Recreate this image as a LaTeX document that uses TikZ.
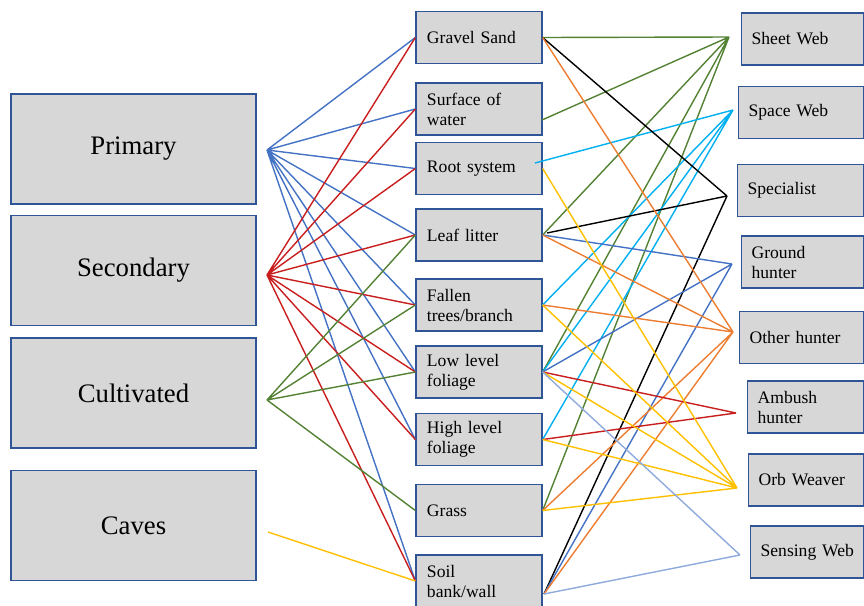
\documentclass[tikz,border=0pt]{standalone}
\usepackage{fontspec}
\setmainfont{Liberation Serif}
\definecolor{borde}{RGB}{47,85,151}
\definecolor{relleno}{RGB}{215,215,215}
\definecolor{azul}{RGB}{68,114,196}
\definecolor{rojo}{RGB}{200,30,30}
\definecolor{verde}{RGB}{84,130,53}
\definecolor{celeste}{RGB}{0,176,240}
\definecolor{naranja}{RGB}{237,125,49}
\definecolor{amarillo}{RGB}{255,192,0}
\definecolor{azulclaro}{RGB}{143,170,220}
\begin{document}
\begin{tikzpicture}[x=0.025cm, y=-0.025cm,
    caja/.style={draw=borde, fill=relleno, line width=0.9pt, inner sep=0pt},
    habitat/.style={caja, minimum width=6.125cm, minimum height=2.75cm, font=\fontsize{19}{23}\selectfont},
    micro/.style={caja, minimum width=3.15cm, minimum height=1.3cm, text width=2.6cm, align=left, font=\fontsize{12.5}{14.2}\selectfont},
    gremio/.style={caja, anchor=west, minimum width=#1, text width=#1-0.5cm, minimum height=1.3cm, align=left, font=\fontsize{12.5}{14.2}\selectfont},
    enlace/.style={line width=1pt}]
    \useasboundingbox (0,0) rectangle (864,606);

    % Hábitats
    \node[habitat] (prim) at (133.5,149) {Primary};
    \node[habitat] (sec) at (133.5,270.5) {Secondary};
    \node[habitat] (cult) at (133.5,393) {Cultivated};
    \node[habitat] (caves) at (133.5,525.5) {Caves};

    % Microhábitats
    \node[micro] (grav) at (479,37.5) {Gravel Sand};
    \node[micro] (surf) at (479,109) {Surface of\\water};
    \node[micro] (root) at (479,168.5) {Root system};
    \node[micro] (leaf) at (479,235) {Leaf litter};
    \node[micro] (fall) at (479,305) {Fallen\\trees/branch};
    \node[micro] (low) at (479,372) {Low level\\foliage};
    \node[micro] (high) at (479,439.5) {High level\\foliage};
    \node[micro] (grass) at (479,510.5) {Grass};
    \node[micro] (soil) at (479,581) {Soil\\bank/wall};

    % Gremios
    \node[gremio=3.05cm] (sheet) at (741,39) {Sheet Web};
    \node[gremio=3.125cm] (space) at (738,112.5) {Space Web};
    \node[gremio=3.15cm] (spec) at (737,190.5) {Specialist};
    \node[gremio=3.05cm] (ground) at (741,262) {Ground\\hunter};
    \node[gremio=3.1cm] (other) at (739,337.5) {Other~hunter};
    \node[gremio=2.9cm] (ambush) at (747,407) {Ambush\\hunter};
    \node[gremio=2.875cm] (orb) at (748,480) {Orb~Weaver};
    \node[gremio=2.825cm] (sensing) at (750,552) {Sensing~Web};

    % Puntos de unión
    \coordinate (pH) at (267,150);
    \coordinate (sH) at (267,275);
    \coordinate (cH) at (267,400);
    \coordinate (vH) at (268,532);
    \coordinate (shH) at (729,37);
    \coordinate (spH) at (733,110);
    \coordinate (scH) at (727,196);
    \coordinate (grH) at (732,264);
    \coordinate (otH) at (733,332);
    \coordinate (amH) at (736,413);
    \coordinate (obH) at (737,488);
    \coordinate (seH) at (740,555);
    \coordinate (surfR) at (542,120);
    \coordinate (rootR) at (535,163);
    \coordinate (leafR) at (547,233);
    \coordinate (soilR) at (544,594);

    % Hábitat -> microhábitat
    \draw[enlace, azul] (pH) -- (grav.west) (pH) -- (surf.west) (pH) -- (root.west)
        (pH) -- (leaf.west) (pH) -- (fall.west) (pH) -- (low.west)
        (pH) -- (high.west) (pH) -- (soil.west);
    \draw[enlace, rojo] (sH) -- (grav.west) (sH) -- (surf.west) (sH) -- (root.west)
        (sH) -- (leaf.west) (sH) -- (fall.west) (sH) -- (low.west)
        (sH) -- (high.west) (sH) -- (soil.west);
    \draw[enlace, verde] (cH) -- (leaf.west) (cH) -- (fall.west) (cH) -- (low.west)
        (cH) -- (grass.west);
    \draw[enlace, amarillo] (vH) -- (soil.west);

    % Microhábitat -> gremio
    \draw[enlace, verde] (grav.east) -- (shH) (surfR) -- (shH) (leaf.east) -- (shH)
        (low.east) -- (shH) (grass.east) -- (shH);
    \draw[enlace, celeste] (rootR) -- (spH) (fall.east) -- (spH) (low.east) -- (spH)
        (high.east) -- (spH);
    \draw[enlace, black] (grav.east) -- (scH) (leafR) -- (scH) (soilR) -- (scH);
    \draw[enlace, azul] (leaf.east) -- (grH) (low.east) -- (grH) (soilR) -- (grH);
    \draw[enlace, naranja] (grav.east) -- (otH) (leaf.east) -- (otH) (fall.east) -- (otH)
        (grass.east) -- (otH) (soilR) -- (otH);
    \draw[enlace, rojo] (low.east) -- (amH) (high.east) -- (amH);
    \draw[enlace, amarillo] (root.east) -- (obH) (fall.east) -- (obH) (low.east) -- (obH)
        (high.east) -- (obH) (grass.east) -- (obH);
    \draw[enlace, azulclaro] (low.east) -- (seH) (soilR) -- (seH);

  \end{tikzpicture}
\end{document}
